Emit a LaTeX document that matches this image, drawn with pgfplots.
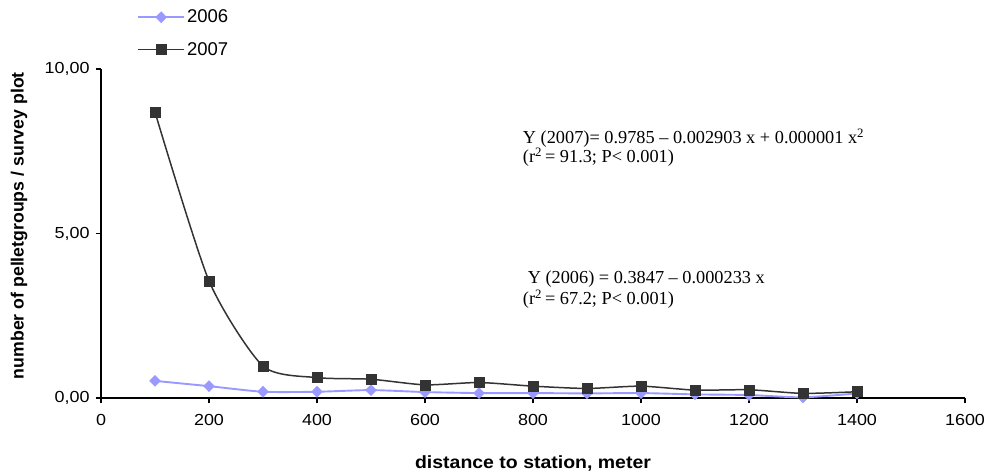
\documentclass[border=0pt]{standalone}
\usepackage{pgfplots}
\pgfplotsset{compat=1.18}
\usetikzlibrary{calc}
\usepackage{fontspec}
\setmainfont{Liberation Sans}
\newfontfamily\tnr{Liberation Serif}
\newfontfamily\tickfont[FakeStretch=1.12]{Liberation Sans}
\newfontfamily\xlabfont[FakeStretch=1.1]{Liberation Sans}
\definecolor{c2006}{RGB}{153,153,255}
\definecolor{c2007}{RGB}{51,51,51}
\begin{document}
\begin{tikzpicture}
\begin{axis}[
  name=ax,
  scale only axis,
  width=864bp, height=329bp,
  xmin=0, xmax=1600, ymin=0, ymax=10,
  axis lines=left,
  axis line style={-, black, line width=1.4pt},
  xtick={0,200,...,1600}, ytick={0,5,10},
  tick align=outside, major tick length=5bp,
  tick style={black, line width=1.4pt},
  /pgf/number format/assume math mode=true,
  xticklabel style={/pgf/number format/1000 sep={}, font=\tickfont\fontsize{16bp}{18bp}\selectfont, yshift=-8bp},
  yticklabel style={/pgf/number format/.cd, fixed, fixed zerofill, precision=2, use comma, /tikz/font=\tickfont\fontsize{16bp}{18bp}\selectfont, /tikz/xshift=-3bp},
  xlabel={distance to station, meter},
  ylabel={number of pelletgroups / survey plot},
  xlabel style={font=\xlabfont\bfseries\fontsize{17.7bp}{20bp}\selectfont, at={(axis description cs:0.5,-0.198)}, anchor=center},
  ylabel style={font=\bfseries\fontsize{17.7bp}{20bp}\selectfont, at={(axis description cs:-0.0949,0.524)}, anchor=center},
  legend style={at={(axis description cs:0.0417,1.186)}, anchor=north west, draw=none, fill=none, inner sep=0pt,
    font=\fontsize{18.5bp}{21bp}\selectfont, row sep=14bp, legend cell align=left},
  legend image code/.code={\draw[#1,mark=none] (0bp,0bp) -- (46bp,0bp); \draw[#1,mark repeat=2,mark phase=2] plot coordinates {(0bp,0bp) (23bp,0bp) (46bp,0bp)};},
  clip=false,
]
\addplot[c2006, line width=1.9pt, smooth, tension=0.4, mark=diamond*, mark size=5.5bp, mark options={solid, fill=c2006, xscale=1.3, line width=0.5pt}] coordinates {
(100,0.52) (200,0.36) (300,0.19) (400,0.19) (500,0.24) (600,0.18) (700,0.15)
(800,0.15) (900,0.14) (1000,0.15) (1100,0.11) (1200,0.09) (1300,0.02) (1400,0.14)};
\addlegendentry{2006}
\addplot[c2007, line width=1.5pt, smooth, tension=0.4, mark=square*, mark size=5bp, mark options={solid, fill=c2007, line width=0.5pt}] coordinates {
(100,8.69) (200,3.56) (300,0.97) (400,0.62) (500,0.57) (600,0.40) (700,0.47)
(800,0.36) (900,0.29) (1000,0.36) (1100,0.24) (1200,0.25) (1300,0.14) (1400,0.19)};
\addlegendentry{2007}
\node[anchor=west, font=\tnr\fontsize{18.3bp}{20bp}\selectfont, inner sep=0pt] at (axis cs:781,7.90) {Y (2007)= 0.9785 – 0.002903 x + 0.000001 x\textsuperscript{2}};
\node[anchor=west, font=\tnr\fontsize{18.3bp}{20bp}\selectfont, inner sep=0pt] at (axis cs:781,7.33) {(r\textsuperscript{2}\,= 91.3; P< 0.001)};
\node[anchor=west, font=\tnr\fontsize{18.3bp}{20bp}\selectfont, inner sep=0pt] at (axis cs:790,3.62) {Y (2006) = 0.3847 – 0.000233 x};
\node[anchor=west, font=\tnr\fontsize{18.3bp}{20bp}\selectfont, inner sep=0pt] at (axis cs:781,3.01) {(r\textsuperscript{2}\,= 67.2; P< 0.001)};
\end{axis}
\pgfresetboundingbox
\path ($(ax.south west)+(-101bp,-77bp)$) rectangle ($(ax.south west)+(887bp,398bp)$);
\end{tikzpicture}
\end{document}
